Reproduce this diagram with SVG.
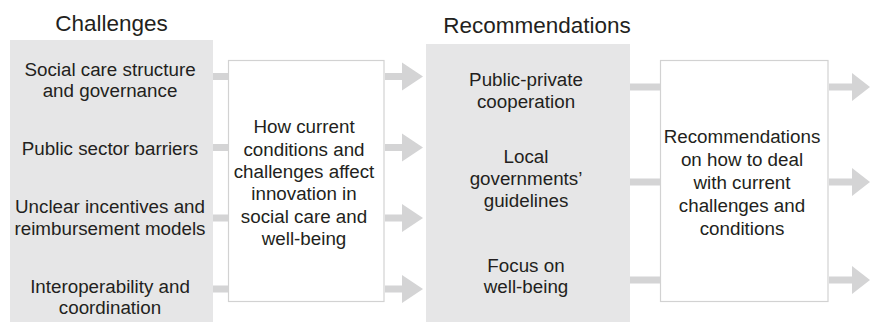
<svg xmlns="http://www.w3.org/2000/svg" width="870" height="322" viewBox="0 0 870 322">
<style>
text{font-family:"Liberation Sans",Arial,sans-serif;fill:#231f20;text-anchor:middle}
.t{font-size:22.5px}
.b{font-size:18.8px}
.panel{fill:#e6e6e7}
.box{fill:#fff;stroke:#d2d2d2;stroke-width:1.2}
.c{fill:#d4d4d5}
</style>
<rect width="870" height="322" fill="#fff"/>
<g id="challenges">
<text class="t" x="111.5" y="31">Challenges</text>
<rect class="panel" x="10" y="40" width="203" height="282"/>
<text class="b" x="110" y="76">Social care structure</text>
<text class="b" x="110" y="97">and governance</text>
<text class="b" x="110" y="155">Public sector barriers</text>
<text class="b" x="110" y="213">Unclear incentives and</text>
<text class="b" x="110" y="235">reimbursement models</text>
<text class="b" x="110" y="293">Interoperability and</text>
<text class="b" x="110" y="314">coordination</text>
</g>
<g id="box1">
<rect class="box" x="228.5" y="60.5" width="155.5" height="241"/>
<text class="b" x="304" y="133">How current</text>
<text class="b" x="304" y="156">conditions and</text>
<text class="b" x="304" y="178">challenges affect</text>
<text class="b" x="304" y="200">innovation in</text>
<text class="b" x="304" y="223">social care and</text>
<text class="b" x="304" y="245">well-being</text>
</g>
<g id="recommendations">
<text class="t" x="537" y="33">Recommendations</text>
<rect class="panel" x="426" y="44" width="204" height="278"/>
<text class="b" x="526" y="86">Public-private</text>
<text class="b" x="526" y="108">cooperation</text>
<text class="b" x="526" y="163">Local</text>
<text class="b" x="526" y="185">governments’</text>
<text class="b" x="526" y="207">guidelines</text>
<text class="b" x="526" y="272">Focus on</text>
<text class="b" x="526" y="293">well-being</text>
</g>
<g id="box2">
<rect class="box" x="660.5" y="60.5" width="167.5" height="241"/>
<text class="b" x="742" y="143">Recommendations</text>
<text class="b" x="742" y="166">on how to deal</text>
<text class="b" x="742" y="189">with current</text>
<text class="b" x="742" y="212">challenges and</text>
<text class="b" x="742" y="235">conditions</text>
</g>
<g id="connectors">
<rect class="c" x="213" y="73" width="15" height="7"/>
<rect class="c" x="213" y="144" width="15" height="7"/>
<rect class="c" x="213" y="214.5" width="15" height="7"/>
<rect class="c" x="213" y="285.5" width="15" height="7"/>
<path class="c" d="M385 73h17v-10.5l21 14-21 14v-10.5h-17z"/>
<path class="c" d="M385 144h17v-10.5l21 14-21 14v-10.5h-17z"/>
<path class="c" d="M385 214.5h17v-10.5l21 14-21 14v-10.5h-17z"/>
<path class="c" d="M385 285.5h17v-10.5l21 14-21 14v-10.5h-17z"/>
<rect class="c" x="630" y="83.5" width="30" height="7"/>
<rect class="c" x="630" y="178.5" width="30" height="7"/>
<rect class="c" x="630" y="276.5" width="30" height="7"/>
<path class="c" d="M829 83.5h23v-10.5l18 14-18 14v-10.5h-23z"/>
<path class="c" d="M829 178.5h23v-10.5l18 14-18 14v-10.5h-23z"/>
<path class="c" d="M829 276.5h23v-10.5l18 14-18 14v-10.5h-23z"/>
</g>
</svg>
